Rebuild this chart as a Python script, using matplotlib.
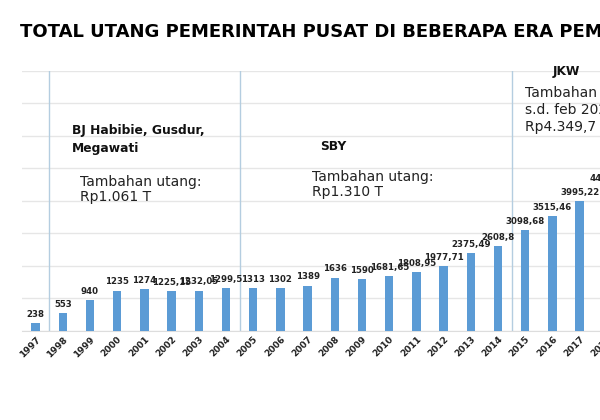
import matplotlib
matplotlib.use("Agg")
import matplotlib.pyplot as plt

years = ["1997", "1998", "1999", "2000", "2001", "2002", "2003", "2004", "2005", "2006",
         "2007", "2008", "2009", "2010", "2011", "2012", "2013", "2014", "2015", "2016",
         "2017", "2018"]
values = [238, 553, 940, 1235, 1274, 1225.15, 1232.05, 1299.5, 1313, 1302,
          1389, 1636, 1590, 1681.65, 1808.95, 1977.71, 2375.49, 2608.8, 3098.68, 3515.46,
          3995.22, 4418.3]
labels = ["238", "553", "940", "1235", "1274", "1225,15", "1232,05", "1299,5", "1313", "1302",
          "1389", "1636", "1590", "1681,65", "1808,95", "1977,71", "2375,49", "2608,8", "3098,68", "3515,46",
          "3995,22", "4418,3"]
era_breaks = [0.5, 7.5, 17.5]  # between 1997/1998, 2004/2005, 2014/2015

title = "TOTAL UTANG PEMERINTAH PUSAT DI BEBERAPA ERA PEMERINTAHAN"

W, H = 600, 420
fig = plt.figure(figsize=(6, 4.2), dpi=100)
fig.patch.set_facecolor("white")

# axes extends beyond right edge of figure (reference is cropped)
left_px, base_px, top_px, step = 22, 330.7, 70.7, 27.2
n_slots = 24
ax = fig.add_axes([left_px / W, 1 - base_px / H, n_slots * step / W, (base_px - top_px) / H])
x = list(range(len(years)))
ax.bar(x, values, width=0.31, color="#5B9BD5", zorder=3)
ax.set_xlim(-0.5, n_slots - 0.5)
ax.set_ylim(0, 8000)
ax.set_yticks(range(0, 8001, 1000))
ax.yaxis.grid(True, color="#e6e6e6", linewidth=1.0, zorder=0)
ax.tick_params(axis="y", left=False, labelleft=False)
ax.tick_params(axis="x", length=0, pad=3)
for s in ["top", "right", "left"]:
    ax.spines[s].set_visible(False)
ax.spines["bottom"].set_color("#dddddd")
ax.set_xticks(x)
ax.set_xticklabels(years, rotation=45, ha="right", rotation_mode="anchor",
                   fontsize=6.5, fontweight="bold", color="#222222")

for b in era_breaks:
    ax.axvline(b, color="#b4cde0", linewidth=1.0, zorder=2)

for xi, v, lab in zip(x, values, labels):
    ax.annotate(lab, (xi, v), xytext=(0, 3), textcoords="offset points",
                ha="center", va="bottom", fontsize=6.2, fontweight="bold", color="#222222")

def ftext(px, py, s, **kw):
    fig.text(px / W, 1 - py / H, s, va="center", **kw)

ftext(20, 32, title, fontsize=13.0, fontweight="bold", color="black")

ftext(72, 130.7, "BJ Habibie, Gusdur,", fontsize=8.8, fontweight="bold", color="#111111")
ftext(72, 148.3, "Megawati", fontsize=8.8, fontweight="bold", color="#111111")
ftext(80, 181.7, "Tambahan utang:", fontsize=10, color="#222222")
ftext(80, 196.7, "Rp1.061 T", fontsize=10, color="#222222")

ftext(320, 146.7, "SBY", fontsize=8.8, fontweight="bold", color="#111111")
ftext(312, 177.3, "Tambahan utang:", fontsize=10, color="#222222")
ftext(312, 191.7, "Rp1.310 T", fontsize=10, color="#222222")

ftext(553, 71.7, "JKW", fontsize=8.8, fontweight="bold", color="#111111")
ftext(525, 93, "Tambahan utang", fontsize=10, color="#222222")
ftext(525, 110, "s.d. feb 2020", fontsize=10, color="#222222")
ftext(525, 127, "Rp4.349,7  T", fontsize=10, color="#222222")

fig.savefig("out.png", dpi=100, facecolor="white")
